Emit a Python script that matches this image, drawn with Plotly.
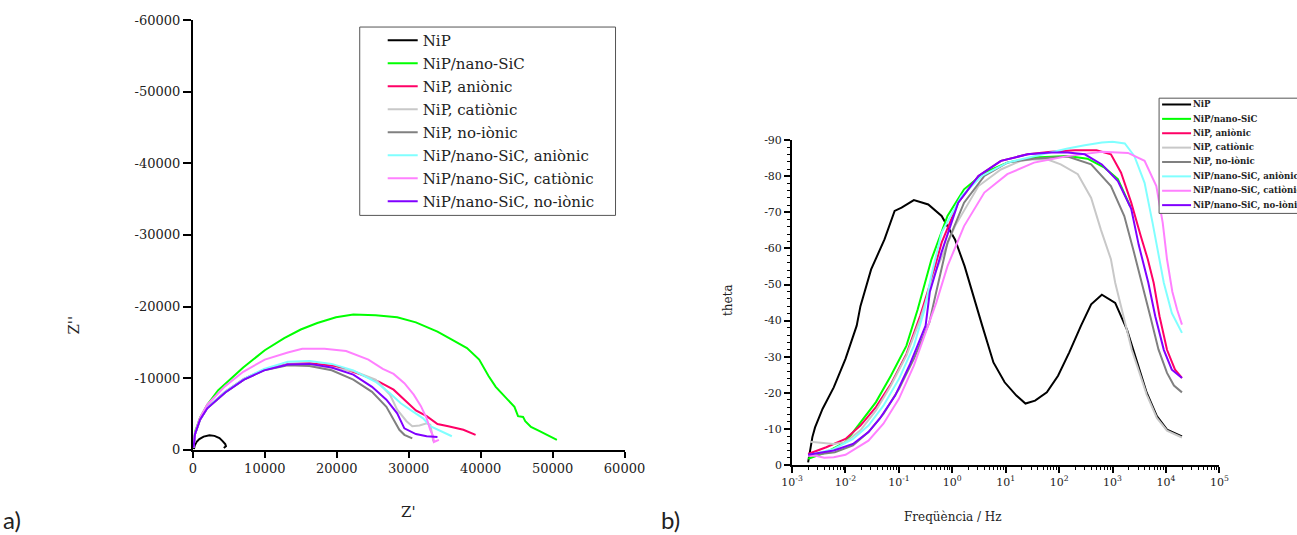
import numpy as np
import plotly.graph_objects as go

W, H = 1297, 535

series_names = ["NiP", "NiP/nano-SiC", "NiP, aniònic", "NiP, catiònic", "NiP, no-iònic",
                "NiP/nano-SiC, aniònic", "NiP/nano-SiC, catiònic", "NiP/nano-SiC, no-iònic"]
series_colors = ["#000000", "#00FF00", "#FF0066", "#C8C8C8", "#808080",
                 "#80FFFF", "#FF80FF", "#8000FF"]

# ---------------- a) Nyquist: Z' (ohm) and Z'' (ohm, negative) ----------------
nyq_re_nip = [150, 250, 500, 900, 1500, 2300, 3000, 3700, 4100, 4500, 4600, 4300]
nyq_im_nip = [-100, -600, -1100, -1500, -1850, -2050, -1950, -1650, -1250, -800, -500, -250]

nyq_re_sic = [100, 300, 1000, 2000, 3500, 5000, 7000, 10000, 12700, 15000, 17300, 19900, 22300,
              25400, 28400, 31000, 34000, 36000, 38100, 39800, 41100, 42100, 43600, 44700,
              45200, 45900, 46200, 47000, 48200, 49700, 50600]
nyq_im_sic = [-300, -2500, -4500, -6300, -8300, -9700, -11500, -13900, -15600, -16800, -17700,
              -18500, -18900, -18800, -18500, -17800, -16500, -15400, -14200, -12600, -10300,
              -8800, -7200, -6000, -4700, -4600, -4000, -3200, -2600, -1900, -1400]

nyq_re_nip_an = [100, 300, 1000, 2000, 4500, 7100, 9900, 13200, 16200, 19800, 23400, 25900,
                 27900, 30000, 31000, 32500, 34000, 35500, 37600, 39300]
nyq_im_nip_an = [-300, -2200, -4300, -5900, -8100, -9900, -11200, -12000, -12100, -11700,
                 -10500, -9500, -8400, -6500, -5500, -4700, -3600, -3300, -2800, -2100]

nyq_re_nip_cat = [100, 300, 1000, 2000, 4500, 7100, 9900, 13200, 16200, 19300, 22300, 25400,
                  27400, 28400, 29700, 30500, 31500, 32500, 33000, 33300, 33400]
nyq_im_nip_cat = [-300, -2200, -4200, -5800, -8000, -9800, -11200, -11900, -11900, -11400,
                  -11000, -9800, -7700, -5600, -4000, -3300, -3400, -3700, -3500, -2000, -1200]

nyq_re_nip_no = [100, 300, 1000, 2000, 4500, 7100, 9900, 13200, 16200, 19300, 22300, 24900,
                 26900, 27900, 28700, 29400, 30500]
nyq_im_nip_no = [-300, -2200, -4200, -5800, -8000, -9800, -11100, -11800, -11700, -11100,
                 -9800, -8100, -6000, -4200, -2800, -2100, -1600]

nyq_re_sic_an = [100, 300, 1000, 2000, 4500, 7100, 9900, 13200, 16200, 19300, 22300, 25400,
                 27400, 28900, 30500, 32000, 33000, 34500, 36000]
nyq_im_sic_an = [-300, -2200, -4300, -5900, -8100, -9900, -11300, -12300, -12400, -12000,
                 -11100, -9500, -7900, -6500, -5400, -4400, -3300, -2600, -1900]

nyq_re_sic_cat = [100, 300, 1000, 2000, 4500, 7000, 10000, 13200, 15200, 18300, 21300, 24400,
                  26400, 27900, 29400, 30700, 31700, 32500, 33000, 33400, 33500, 34200]
nyq_im_sic_cat = [-300, -2300, -4500, -6300, -8900, -10900, -12600, -13600, -14100, -14100,
                  -13800, -12600, -11300, -10600, -9300, -7700, -6100, -4400, -2800, -1900,
                  -1100, -1400]

nyq_re_sic_no = [100, 300, 1000, 2000, 4500, 7100, 9900, 13200, 16200, 19300, 22300, 24900,
                 26900, 28400, 29400, 31000, 32500, 34000]
nyq_im_sic_no = [-300, -2200, -4200, -5800, -8000, -9800, -11100, -11900, -12000, -11500,
                 -10500, -8800, -7000, -5100, -3000, -2200, -1900, -1800]

# ---------------- b) Bode phase: log10(f / Hz) and theta (deg) ----------------
bode_lf_nip = [-2.70, -2.62, -2.57, -2.43, -2.22, -2.0, -1.79, -1.72, -1.52, -1.27, -1.08, -0.95,
               -0.72, -0.45, -0.20, 0.05, 0.23, 0.42, 0.56, 0.77, 0.98, 1.2, 1.37, 1.55, 1.77,
               1.98, 2.19, 2.41, 2.6, 2.8, 3.05, 3.27, 3.46, 3.64, 3.83, 4.02, 4.30]
bode_th_nip = [-0.7, -7.7, -10.4, -15.5, -21.5, -29.4, -38.6, -44, -54.2, -62.5, -70.4, -71.3,
               -73.4, -72.2, -69, -62.5, -55.1, -46, -38.6, -28.4, -22.9, -19.2, -17, -17.8,
               -20.1, -24.7, -31.2, -38.6, -44.5, -47.2, -44.9, -37.5, -28.3, -20, -13.5, -9.8, -7.9]

bode_lf_sic = [-2.70, -2.36, -2.0, -1.72, -1.43, -1.15, -0.86, -0.65, -0.39, -0.09, 0.22, 0.6,
               1.03, 1.53, 2.16, 2.53, 2.85, 3.10, 3.33]
bode_th_sic = [-1.7, -3.5, -6.3, -11.8, -17.4, -24.7, -33, -43, -57, -69, -76.4, -81, -83.8,
               -85.2, -85.6, -84.9, -82.4, -79.2, -71.7]

bode_lf_nip_an = [-2.70, -2.36, -2.0, -1.72, -1.43, -1.15, -0.86, -0.6, -0.4, -0.2, 0.11, 0.49,
                  0.91, 1.41, 1.85, 2.3, 2.7, 2.97, 3.16, 3.35, 3.53, 3.66, 3.77, 3.88, 4.02,
                  4.17, 4.30]
bode_th_nip_an = [-3.0, -4.9, -7.2, -10.9, -16, -22.4, -30.7, -41.4, -51, -61.6, -72.7, -80.1,
                  -84.3, -86.1, -86.8, -87.2, -87.2, -86.1, -81, -72.7, -63.4, -57, -50.5,
                  -41.2, -31.9, -26.4, -24.1]

bode_lf_nip_cat = [-2.66, -2.4, -2.22, -2.0, -1.72, -1.43, -1.15, -0.86, -0.6, -0.33, 0.05, 0.49,
                   0.91, 1.28, 1.53, 1.8, 2.03, 2.35, 2.60, 2.78, 2.97, 3.05, 3.20, 3.36, 3.46,
                   3.64, 3.83, 4.02, 4.30]
bode_th_nip_cat = [-6.4, -6.1, -5.8, -6.3, -9.6, -15.1, -22, -30.3, -40.4, -53, -66.2, -77.3,
                   -81.9, -84.3, -84.7, -84.6, -83.3, -80.6, -74, -65.3, -57, -50.5, -41.2,
                   -31.9, -27.5, -19.5, -13, -9.5, -7.6]

bode_lf_nip_no = [-2.70, -2.2, -1.86, -1.57, -1.29, -1.0, -0.72, -0.43, -0.3, -0.09, 0.22, 0.60,
                  1.03, 1.53, 2.16, 2.60, 2.97, 3.22, 3.40, 3.56, 3.71, 3.86, 4.02, 4.15, 4.30]
bode_th_nip_no = [-2.6, -3.5, -5.4, -9.1, -14.1, -21, -29.4, -39.5, -48, -61.6, -72.7, -80.1,
                  -83.8, -84.9, -85.5, -83.3, -77.3, -69, -59, -50, -41, -32, -25.5, -22, -20.1]

bode_lf_sic_an = [-2.70, -2.22, -1.86, -1.57, -1.29, -1.0, -0.72, -0.52, -0.4, -0.2, 0.17, 0.55,
                  1.03, 1.53, 2.16, 2.48, 2.80, 3.0, 3.23, 3.41, 3.60, 3.75, 3.88, 3.96, 4.11, 4.30]
bode_th_sic_an = [-2.6, -4.4, -7.2, -10.9, -16.4, -23.8, -33, -43, -52, -64.4, -74.5, -80.1,
                  -83.8, -85.6, -87.7, -88.6, -89.4, -89.6, -89.1, -85.6, -78.2, -67.1, -57,
                  -50.5, -42.1, -36.6]

bode_lf_sic_cat = [-2.70, -2.57, -2.40, -2.22, -2.0, -1.86, -1.57, -1.29, -1.0, -0.72, -0.45,
                   -0.3, -0.09, 0.22, 0.60, 1.03, 1.53, 2.16, 2.80, 3.29, 3.60, 3.82, 3.94,
                   4.02, 4.12, 4.21, 4.30]
bode_th_sic_cat = [-2.5, -2.6, -2.0, -2.1, -2.8, -4.0, -6.7, -11.4, -18.3, -27.5, -38.6, -45,
                   -55.1, -66.2, -75.5, -80.6, -83.8, -85.6, -86.8, -86.5, -84.3, -77.3, -67.1,
                   -57, -48, -43, -38.9]

bode_lf_sic_no = [-2.70, -2.22, -1.86, -1.57, -1.36, -1.07, -0.79, -0.50, -0.42, -0.2, 0.11,
                  0.49, 0.91, 1.41, 1.85, 2.16, 2.48, 2.80, 3.10, 3.35, 3.49, 3.57, 3.67, 3.80,
                  3.96, 4.11, 4.30]
bode_th_sic_no = [-2.8, -4.0, -5.8, -9.1, -12.8, -19.2, -28, -38.6, -48, -59, -72.7, -80.1,
                  -84.3, -86.1, -86.6, -86.6, -86.1, -83.3, -78.7, -71, -61, -56, -50.5, -41.2,
                  -31.9, -26.4, -24.1]

# tick labels
nyq_x_ticks = [0, 10000, 20000, 30000, 40000, 50000, 60000]
nyq_x_labels = ["0", "10000", "20000", "30000", "40000", "50000", "60000"]
nyq_y_ticks = [0, -10000, -20000, -30000, -40000, -50000, -60000]
nyq_y_labels = ["0", "-10000", "-20000", "-30000", "-40000", "-50000", "-60000"]
bode_x_ticks = [1e-3, 1e-2, 1e-1, 1e0, 1e1, 1e2, 1e3, 1e4, 1e5]
bode_x_labels = ["10<sup>-3</sup>", "10<sup>-2</sup>", "10<sup>-1</sup>", "10<sup>0</sup>",
                 "10<sup>1</sup>", "10<sup>2</sup>", "10<sup>3</sup>", "10<sup>4</sup>",
                 "10<sup>5</sup>"]
bode_y_ticks = [0, -10, -20, -30, -40, -50, -60, -70, -80, -90]
bode_y_labels = ["0", "-10", "-20", "-30", "-40", "-50", "-60", "-70", "-80", "-90"]

nyq_re = [nyq_re_nip, nyq_re_sic, nyq_re_nip_an, nyq_re_nip_cat, nyq_re_nip_no,
          nyq_re_sic_an, nyq_re_sic_cat, nyq_re_sic_no]
nyq_im = [nyq_im_nip, nyq_im_sic, nyq_im_nip_an, nyq_im_nip_cat, nyq_im_nip_no,
          nyq_im_sic_an, nyq_im_sic_cat, nyq_im_sic_no]
bode_lf = [bode_lf_nip, bode_lf_sic, bode_lf_nip_an, bode_lf_nip_cat, bode_lf_nip_no,
           bode_lf_sic_an, bode_lf_sic_cat, bode_lf_sic_no]
bode_th = [bode_th_nip, bode_th_sic, bode_th_nip_an, bode_th_nip_cat, bode_th_nip_no,
           bode_th_sic_an, bode_th_sic_cat, bode_th_sic_no]

SERIF = "DejaVu Serif"

# the page shows the plot inside an inset box; map target pixels to paper fractions
OX, OY, WF, HF = 10.0, 8.0, 1266.0, 519.0


def px(x):
    return (x - OX) / WF


def py(y):
    return 1 - (y - OY) / HF


fig = go.Figure()
for name, col, xr, yi in zip(series_names, series_colors, nyq_re, nyq_im):
    fig.add_trace(go.Scatter(x=xr, y=yi, mode="lines", name=name, legendgroup=name,
                             line=dict(color=col, width=2), xaxis="x", yaxis="y",
                             legend="legend"))
for name, col, lf, th in zip(series_names, series_colors, bode_lf, bode_th):
    fig.add_trace(go.Scatter(x=10 ** np.array(lf), y=th, mode="lines", name=name,
                             line=dict(color=col, width=2), xaxis="x2", yaxis="y2",
                             showlegend=False))

axis_common = dict(showline=True, linecolor="black", showgrid=False, zeroline=False,
                   ticks="outside", tickcolor="black", mirror=False)

fig.update_layout(
    width=W, height=H, autosize=False,
    margin=dict(l=0, r=0, t=0, b=0),
    paper_bgcolor="white", plot_bgcolor="white",
    font=dict(family=SERIF, color="#222222"),
    xaxis=dict(domain=[px(192), px(624)], range=[0, 60000], anchor="y",
               tickvals=nyq_x_ticks, ticktext=nyq_x_labels, ticklen=6, tickwidth=2,
               linewidth=2, tickfont=dict(family=SERIF, size=13), **axis_common),
    yaxis=dict(domain=[py(450), py(21)], range=[0, -60000], anchor="x",
               tickvals=nyq_y_ticks, ticktext=nyq_y_labels, ticklen=8, tickwidth=2,
               linewidth=2, tickfont=dict(family=SERIF, size=13), **axis_common),
    xaxis2=dict(domain=[px(791.7), px(1219.3)], type="log", range=[-3, 5], anchor="y2",
                tickvals=bode_x_ticks, ticktext=bode_x_labels, ticklen=6, tickwidth=1.5,
                linewidth=2, tickfont=dict(family=SERIF, size=11),
                minor=dict(ticks="outside", ticklen=3, tickwidth=1, tickcolor="black",
                           dtick="D1", showgrid=False),
                **axis_common),
    yaxis2=dict(domain=[py(465), py(141)], range=[0, -90], anchor="x2",
                tickvals=bode_y_ticks, ticktext=bode_y_labels, ticklen=6, tickwidth=1.5,
                linewidth=2, tickfont=dict(family=SERIF, size=11),
                minor=dict(ticks="outside", ticklen=3, tickwidth=1, tickcolor="black",
                           dtick=2, showgrid=False),
                **axis_common),
    legend=dict(x=px(382), y=py(25), xanchor="left", yanchor="top",
                bgcolor="rgba(0,0,0,0)", borderwidth=0, tracegroupgap=0.5,
                font=dict(family=SERIF, size=15, color="#222222")),
    showlegend=True,
)

annotations = [
    dict(text="Z''", x=px(73), y=py(325), textangle=-90, font=dict(family=SERIF, size=15)),
    dict(text="Z'", x=px(408), y=py(512), font=dict(family=SERIF, size=15)),
    dict(text="theta", x=px(727), y=py(300), textangle=-90, font=dict(family=SERIF, size=12)),
    dict(text="Freqüència / Hz", x=px(953), y=py(517), font=dict(family=SERIF, size=12)),
    dict(text="a)", x=px(0), y=py(520), xanchor="left", font=dict(family="Lato", size=24)),
    dict(text="b)", x=px(659), y=py(520), xanchor="left", font=dict(family="Lato", size=24)),
]
shapes = []
# frame of the legend of panel a)
shapes.append(dict(type="rect", x0=px(359), x1=px(615), y0=py(28), y1=py(216),
                   line=dict(color="#555555", width=1), fillcolor="white", layer="above"))
# legend of panel b)
leg_top, leg_left, leg_step = 105.3, 1159, 14.35
shapes.append(dict(type="rect", x0=px(leg_left), x1=px(1320), y0=py(99), y1=py(214),
                   line=dict(color="#555555", width=1), fillcolor="white", layer="above"))
for i, (name, col) in enumerate(zip(series_names, series_colors)):
    yy = leg_top + i * leg_step
    shapes.append(dict(type="line", x0=px(1162), x1=px(1191), y0=py(yy), y1=py(yy),
                       line=dict(color=col, width=2), layer="above"))
    annotations.append(dict(text="<b>" + name + "</b>", x=px(1191), y=py(yy), xanchor="left",
                            font=dict(family=SERIF, size=8.6, color="#222222")))

for a in annotations:
    a.setdefault("xref", "paper")
    a.setdefault("yref", "paper")
    a.setdefault("showarrow", False)
    a.setdefault("xanchor", "center")
    a.setdefault("yanchor", "middle")
for s in shapes:
    s["xref"] = "paper"
    s["yref"] = "paper"

fig.update_layout(annotations=annotations, shapes=shapes)
fig.write_html("out.html")
